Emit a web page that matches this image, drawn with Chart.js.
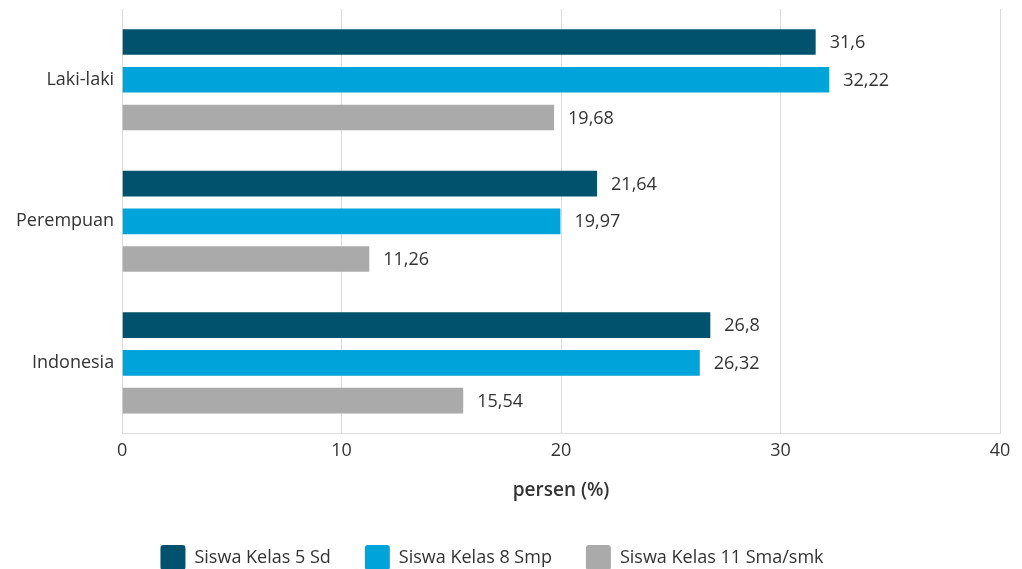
<!DOCTYPE html>
<html>
<head>
<meta charset="utf-8">
<script src="https://cdn.jsdelivr.net/npm/chart.js@4"></script>
<style>
  html, body { margin: 0; padding: 0; background: #fff; }
  #wrap { width: 1022px; height: 569px; }
</style>
</head>
<body>
<div id="wrap"><canvas id="chart"></canvas></div>
<script>
const categories = ['Laki-laki', 'Perempuan', 'Indonesia'];
const seriesNames = ['Siswa Kelas 5 Sd', 'Siswa Kelas 8 Smp', 'Siswa Kelas 11 Sma/smk'];
const kelas5 = [31.6, 21.64, 26.8];
const kelas8 = [32.22, 19.97, 26.32];
const kelas11 = [19.68, 11.26, 15.54];
const colors = ['#00526d', '#00a3da', '#aaaaab'];

Chart.defaults.font.family = '"Open Sans", sans-serif';
Chart.defaults.font.size = 18;
Chart.defaults.color = '#333';

const valueLabels = {
    id: 'valueLabels',
    afterDatasetsDraw(chart) {
        const ctx = chart.ctx;
        ctx.save();
        ctx.font = '18px "Open Sans", sans-serif';
        ctx.fillStyle = '#333';
        ctx.textBaseline = 'middle';
        ctx.textAlign = 'left';
        chart.data.datasets.forEach((ds, i) => {
            const meta = chart.getDatasetMeta(i);
            meta.data.forEach((bar, j) => {
                const txt = String(ds.data[j]).replace('.', ',');
                ctx.fillText(txt, bar.x + 14, bar.y + 1);
            });
        });
        ctx.restore();
    }
};

// move the legend down and a bit to the left, as in the original
const legendShift = {
    id: 'legendShift',
    afterLayout(chart) {
        const lg = chart.legend;
        if (!lg) return;
        lg.top += 11;
        lg.bottom += 11;
        lg.left -= 12;
        lg.right -= 12;
    }
};

new Chart(document.getElementById('chart'), {
    type: 'bar',
    data: {
        labels: categories,
        datasets: [
            { label: seriesNames[0], data: kelas5, backgroundColor: colors[0] },
            { label: seriesNames[1], data: kelas8, backgroundColor: colors[1] },
            { label: seriesNames[2], data: kelas11, backgroundColor: colors[2] }
        ]
    },
    options: {
        indexAxis: 'y',
        responsive: true,
        maintainAspectRatio: false,
        animation: false,
        categoryPercentage: 0.8,
        barPercentage: 0.68,
        layout: { padding: { left: 8, right: 22, top: 9, bottom: 0 } },
        scales: {
            x: {
                min: 0,
                max: 40,
                ticks: { stepSize: 10, padding: 6, color: '#333' },
                grid: { color: '#dcdcdc', drawTicks: false },
                border: { display: true, color: '#dcdcdc' },
                title: {
                    display: true,
                    text: 'persen (%)',
                    font: { size: 19, weight: '600' },
                    color: '#333',
                    padding: { top: 12, bottom: -2 }
                }
            },
            y: {
                ticks: { padding: 8, color: '#333' },
                grid: { display: false, drawTicks: false },
                border: { display: true, color: '#dcdcdc' },
                afterFit(scale) {
                    scale.paddingTop = 0;
                    scale.paddingBottom = 0;
                }
            }
        },
        plugins: {
            legend: {
                position: 'bottom',
                labels: {
                    boxWidth: 25,
                    boxHeight: 25,
                    padding: 34,
                    color: '#333',
                    font: { size: 18 },
                    useBorderRadius: true,
                    borderRadius: 3
                }
            },
            tooltip: { enabled: false }
        }
    },
    plugins: [valueLabels, legendShift]
});
</script>
</body>
</html>
